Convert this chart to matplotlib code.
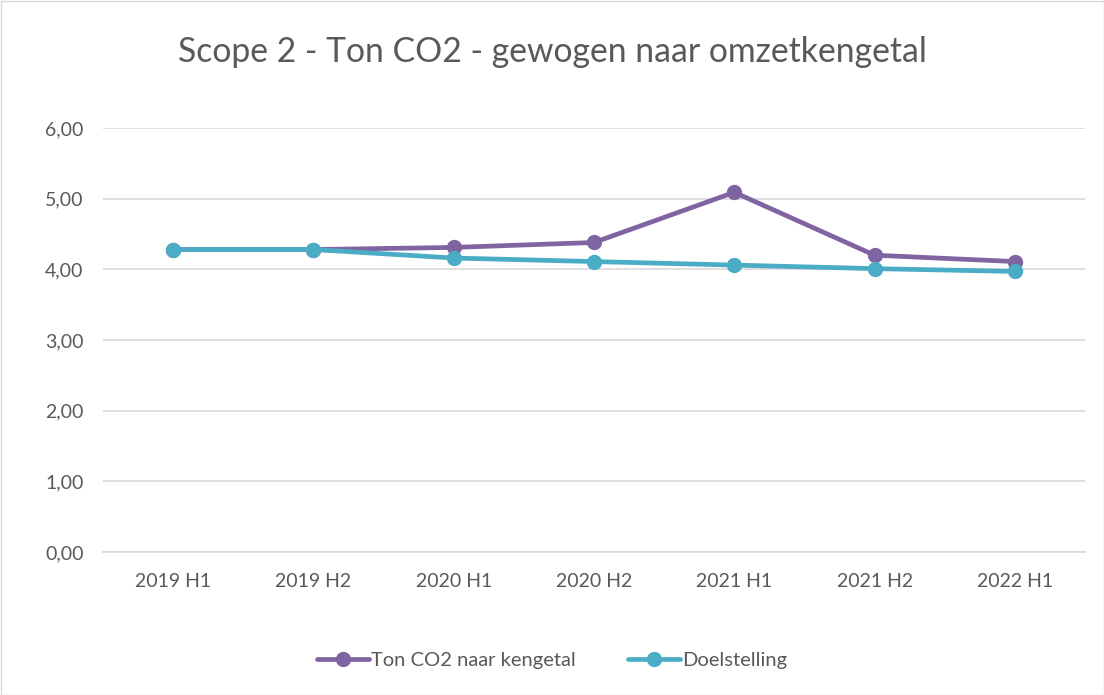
import matplotlib.pyplot as plt
from matplotlib.patches import Rectangle

categories = ['2019 H1', '2019 H2', '2020 H1', '2020 H2', '2021 H1', '2021 H2', '2022 H1']
ton_co2 = [4.28, 4.28, 4.31, 4.38, 5.09, 4.20, 4.11]
doelstelling = [4.28, 4.28, 4.16, 4.11, 4.06, 4.01, 3.97]

plt.rcParams['font.family'] = ['Lato', 'DejaVu Sans']
text_col = '#595959'

fig = plt.figure(figsize=(11.04, 6.95), dpi=100)
ax = fig.add_axes([103 / 1104, 1 - 552 / 695, (1085 - 103) / 1104, (552 - 128) / 695])

x = range(len(categories))
ax.plot(x, ton_co2, color='#8064A2', lw=3.4, marker='o', ms=10, label='Ton CO2 naar kengetal',
        solid_capstyle='round', zorder=3)
ax.plot(x, doelstelling, color='#4BACC6', lw=3.4, marker='o', ms=10, label='Doelstelling',
        solid_capstyle='round', zorder=4)

ax.set_xlim(-0.5, len(categories) - 0.5)
ax.set_ylim(0, 6)
ax.set_yticks([0, 1, 2, 3, 4, 5, 6])
ax.set_yticklabels([f'{v:.2f}'.replace('.', ',') for v in range(7)])
ax.set_xticks(list(x))
ax.set_xticklabels(categories)
ax.tick_params(axis='both', length=0, labelsize=14, labelcolor=text_col)
ax.tick_params(axis='y', pad=14)
ax.tick_params(axis='x', pad=15)
ax.grid(axis='y', color='#D9D9D9', lw=1.2)
ax.set_axisbelow(True)
for s in ['top', 'right', 'left']:
    ax.spines[s].set_visible(False)
ax.spines['bottom'].set_color('#D9D9D9')
ax.spines['bottom'].set_linewidth(1.2)

fig.text(0.5, 1 - 52 / 695, 'Scope 2 - Ton CO2 - gewogen naar omzetkengetal', ha='center', va='center',
         fontsize=24.3, color=text_col)

fig.legend(loc='center', bbox_to_anchor=(0.5, 1 - 660 / 695), ncol=2, frameon=False, fontsize=14.5,
           labelcolor=text_col, handlelength=2.6, handletextpad=0.1, columnspacing=2.6)

fig.patches.append(Rectangle((0.5 / 1104, 0.5 / 695), 1 - 1 / 1104, 1 - 1 / 695, transform=fig.transFigure,
                             fill=False, edgecolor='#D9D9D9', lw=1))

fig.savefig('out.png', dpi=100)
